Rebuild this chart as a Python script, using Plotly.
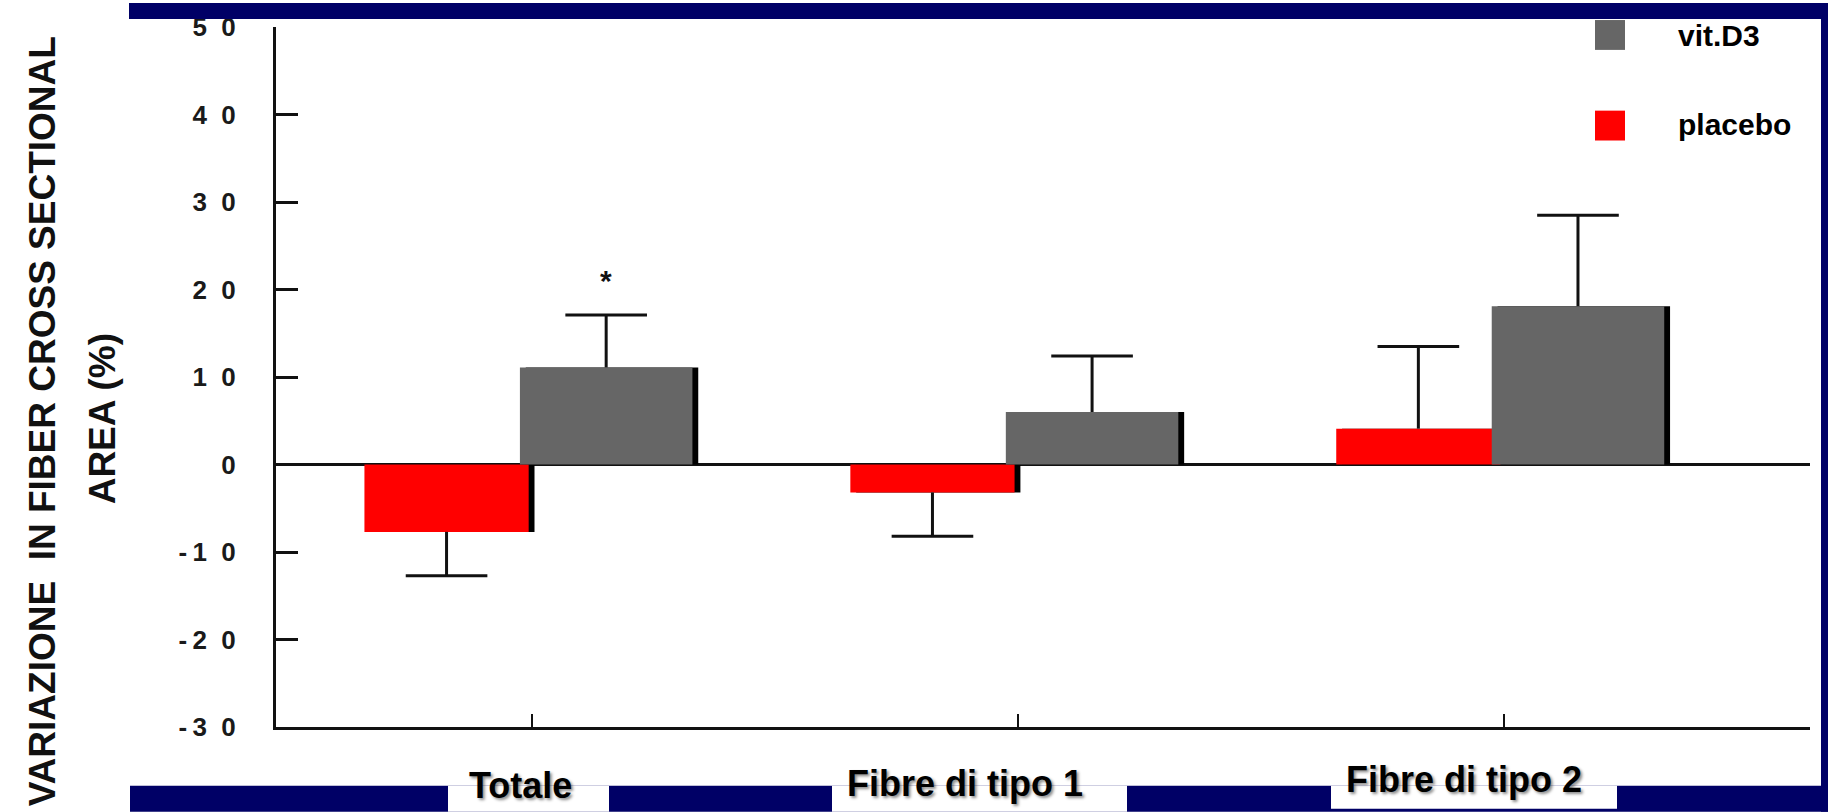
import plotly.graph_objects as go

# ---- data -------------------------------------------------------------
categories = ["Totale", "Fibre di tipo 1", "Fibre di tipo 2"]
series_names = ["placebo", "vit.D3"]
placebo = [-7.7, -3.2, 4.1]
placebo_err = [5.0, 5.0, 9.4]
vitd3 = [11.1, 6.0, 18.1]
vitd3_err = [6.0, 6.4, 10.4]
significance = ["*", "", ""]
y_tick_values = [-30, -20, -10, 0, 10, 20, 30, 40, 50]
y_tick_labels = ["-\u20093\u20070", "-\u20092\u20070", "-\u20091\u20070", "0", "1\u20070",
                 "2\u20070", "3\u20070", "4\u20070", "5\u20070"]

# ---- style ------------------------------------------------------------
W, H = 1828, 812
L, R, T, B = 276, 18, 24, 85
PW, PH = W - L - R, H - T - B
NAVY = "#000066"
RED = "#ff0000"
GREY = "#666666"
INK = "#111111"
FONT = "Liberation Sans, Arial, sans-serif"

RED_OFFSET, RED_WIDTH = -0.345, 0.338
GREY_OFFSET, GREY_WIDTH = -0.025, 0.355
SHADOW_SHIFT = 0.012
CAP_HALF = 0.084  # half-width of the error-bar caps, in category units

x_pos = list(range(len(categories)))


def px_x(px):
    return (px - L) / PW


def px_y(py):
    return (H - B - py) / PH


def error_path(values, errs, offset, width):
    """One-sided error bars pointing away from zero: stem plus cap."""
    xs, ys = [], []
    for x, v, e in zip(x_pos, values, errs):
        cx = x + offset + width / 2
        end = v + e if v >= 0 else v - e
        xs += [cx, cx, None, cx - CAP_HALF, cx + CAP_HALF, None]
        ys += [v, end, None, end, end, None]
    return xs, ys


fig = go.Figure()

# drop shadows behind each bar
for vals, off, wid in [(placebo, RED_OFFSET, RED_WIDTH), (vitd3, GREY_OFFSET, GREY_WIDTH)]:
    fig.add_trace(go.Bar(
        x=x_pos, y=vals, offset=off + SHADOW_SHIFT, width=wid,
        marker=dict(color="#000000", line=dict(width=0)),
        showlegend=False, hoverinfo="skip",
    ))

series = [
    (series_names[0], placebo, placebo_err, RED, RED_OFFSET, RED_WIDTH),
    (series_names[1], vitd3, vitd3_err, GREY, GREY_OFFSET, GREY_WIDTH),
]
for name, vals, errs, colour, off, wid in series:
    fig.add_trace(go.Bar(
        x=x_pos, y=vals, name=name, offset=off, width=wid,
        marker=dict(color=colour, line=dict(width=0)),
        showlegend=False,
    ))
    ex, ey = error_path(vals, errs, off, wid)
    fig.add_trace(go.Scatter(
        x=ex, y=ey, mode="lines", line=dict(color=INK, width=3),
        showlegend=False, hoverinfo="skip",
    ))

annotations = []

# significance markers above the vit.D3 error bars
for i, mark in enumerate(significance):
    if mark:
        annotations.append(dict(
            x=x_pos[i] + GREY_OFFSET + GREY_WIDTH / 2, y=vitd3[i] + vitd3_err[i],
            xref="x", yref="y", text=mark, showarrow=False,
            yanchor="middle", yshift=34,
            font=dict(family=FONT, size=30, color=INK, weight="bold"),
        ))

# y-axis title (two lines, rotated)
title_font = dict(family="Liberation Sans, Arial", size=37, color=INK, weight="bold")
annotations.append(dict(
    x=px_x(42), y=px_y(420), xref="paper", yref="paper",
    text="VARIAZIONE\u00a0 IN FIBER CROSS SECTIONAL", textangle=-90,
    showarrow=False, xanchor="center", yanchor="middle", font=title_font,
))
annotations.append(dict(
    x=px_x(102), y=px_y(418), xref="paper", yref="paper",
    text="AREA (%)", textangle=-90,
    showarrow=False, xanchor="center", yanchor="middle", font=title_font,
))

# category captions along the bottom band
caption_centres = [(520, 786), (965, 784), (1464, 780)]
for name, (cx, cy) in zip(categories, caption_centres):
    annotations.append(dict(
        x=px_x(cx), y=px_y(cy), xref="paper", yref="paper", text=name,
        showarrow=False, xanchor="center", yanchor="middle",
        font=dict(family=FONT, size=36, color="#000000", weight="bold",
                  shadow="2px 2px 3px rgba(0,0,0,0.45)"),
    ))

shapes = []

# legend swatches and labels
legend_rows = [(series_names[1], GREY, 17, 33), (series_names[0], RED, 108, 122)]
for name, colour, top, text_y in legend_rows:
    shapes.append(dict(type="rect", xref="paper", yref="paper",
                       x0=px_x(1595), x1=px_x(1625), y0=px_y(top + 30), y1=px_y(top),
                       fillcolor=colour, line=dict(width=0), layer="above"))
    annotations.append(dict(
        x=px_x(1676), y=px_y(text_y), xref="paper", yref="paper", text=name,
        showarrow=False, xanchor="left", yanchor="middle",
        font=dict(family=FONT, size=30, color="#000000", weight="bold"),
    ))


# slide frame: navy bands with white openings behind the captions
def band(x0, y0, x1, y1, colour):
    return dict(type="rect", xref="paper", yref="paper",
                x0=px_x(x0), x1=px_x(x1), y0=px_y(y1), y1=px_y(y0),
                fillcolor=colour, line=dict(width=0), layer="above")


shapes += [
    band(129, 0, W, 16, NAVY),
    band(1821, 0, W, H, NAVY),
    band(130, 786, W, H, NAVY),
    band(448, 786, 609, H, "#ffffff"),
    band(832, 786, 1127, H, "#ffffff"),
    band(1331, 786, 1617, 809, "#ffffff"),
]

fig.update_layout(
    width=W, height=H,
    margin=dict(l=L, r=R, t=T, b=B, pad=0),
    paper_bgcolor="#ffffff", plot_bgcolor="#ffffff",
    barmode="overlay", showlegend=False,
    annotations=annotations, shapes=shapes,
    xaxis=dict(
        range=[-0.527, 2.63], tickmode="array", tickvals=x_pos,
        showticklabels=False, ticks="inside", ticklen=13, tickwidth=2,
        tickcolor=INK, showline=True, linecolor=INK, linewidth=3,
        showgrid=False, zeroline=False, fixedrange=True,
    ),
    yaxis=dict(
        range=[-30, 50], tickmode="array", tickvals=y_tick_values,
        ticktext=y_tick_labels, ticks="inside", ticklen=22, tickwidth=3,
        tickcolor=INK, showline=True, linecolor=INK, linewidth=3,
        showgrid=False, zeroline=True, zerolinecolor=INK, zerolinewidth=3,
        ticklabelstandoff=32,
        tickfont=dict(family=FONT, size=26, color="#1a1a1a", weight="bold"),
        fixedrange=True,
    ),
)

fig.write_html("out.html")
